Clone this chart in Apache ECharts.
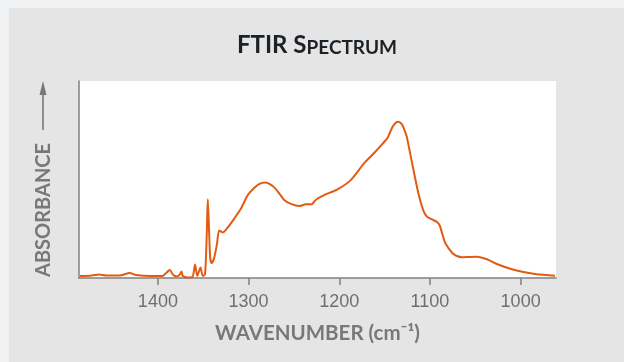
<!DOCTYPE html>
<html>
<head>
<meta charset="utf-8">
<script src="https://cdn.jsdelivr.net/npm/echarts@6/dist/echarts.min.js"></script>
<style>
html,body{margin:0;padding:0;background:#f1f2f4;}
#chart{width:624px;height:362px;}
</style>
</head>
<body>
<div id="chart"></div>
<script>
// Wavenumbers (cm-1)
const wavenumbers = [1486,1473,1465,1457,1442,1431,1424,1407,1395,1391,1387,1383,1379,1375.5,1374,1372.5,1367.6,1362,1359,1356.6,1353,1350.5,1348,1346,1345,1343.6,1342.3,1340.7,1338,1335,1332.4,1328.6,1322.9,1315.6,1308.2,1300.9,1293.6,1288.5,1282,1273.4,1266.2,1260.7,1253.3,1244.2,1236.8,1230.2,1228,1224.7,1216.7,1202,1187.4,1172.7,1161.8,1150.8,1147,1141.5,1138,1134.6,1131.3,1128.8,1125.8,1123.3,1117.8,1112.3,1106.8,1103.1,1098.4,1092.1,1089,1086.6,1083,1075.6,1071,1064.6,1056.6,1048.1,1037.1,1026.2,1011.5,996.9,982.2,962.1];
// Relative absorbance
const absorbance = [0.010,0.013,0.018,0.013,0.013,0.025,0.015,0.010,0.010,0.025,0.041,0.015,0.008,0.020,0.033,0.010,0.003,0.005,0.069,0.010,0.053,0.010,0.020,0.240,0.400,0.244,0.102,0.076,0.102,0.168,0.241,0.231,0.257,0.303,0.354,0.421,0.458,0.477,0.485,0.467,0.430,0.396,0.376,0.365,0.374,0.374,0.386,0.401,0.421,0.450,0.497,0.582,0.633,0.689,0.709,0.765,0.787,0.793,0.782,0.760,0.721,0.667,0.540,0.421,0.337,0.311,0.299,0.284,0.264,0.227,0.176,0.128,0.113,0.105,0.107,0.108,0.095,0.071,0.047,0.030,0.019,0.012];
const tickValues = [1400,1300,1200,1100,1000];
const titleBig = 'FTIR S';
const titleSmall = 'PECTRUM';
const xAxisTitle = 'WAVENUMBER (cm⁻¹)';
const yAxisTitle = 'ABSORBANCE';

const seriesData = wavenumbers.map((w,i)=>[w, absorbance[i]]);
const chart = echarts.init(document.getElementById('chart'), null, {renderer:'canvas'});
const grey = '#787878';
chart.setOption({
  backgroundColor:'#f1f2f4',
  animation:false,
  graphic:[
    {type:'rect', z:-10, shape:{x:9,y:8,width:620,height:360}, style:{fill:'#e5e5e5'}},
    {type:'text', x:317, y:45, style:{
      text:'{a|'+titleBig+'}{b|'+titleSmall+'}',
      textAlign:'center', textVerticalAlign:'middle',
      rich:{
        a:{fontFamily:'Lato', fontWeight:'bold', fontSize:24, fill:'#1b2126'},
        b:{fontFamily:'Lato', fontWeight:'bold', fontSize:19, fill:'#1b2126', verticalAlign:'bottom'}
      }
    }},
    {type:'text', x:43.5, y:277, rotation:Math.PI/2, style:{
      text:yAxisTitle, textAlign:'left', textVerticalAlign:'middle',
      fontFamily:'Lato', fontWeight:'bold', fontSize:20, fill:grey
    }},
    {type:'line', shape:{x1:43,y1:130,x2:43,y2:92}, style:{stroke:grey, lineWidth:1.6}},
    {type:'polygon', shape:{points:[[43,81],[39.5,95],[46.5,95]]}, style:{fill:grey}}
  ],
  grid:{left:79, right:68, top:81, bottom:84, show:true, backgroundColor:'#ffffff', borderWidth:0},
  xAxis:{
    type:'value', inverse:true, min:961, max:1487,
    name:xAxisTitle, nameLocation:'middle', nameGap:45,
    nameTextStyle:{fontFamily:'Lato', fontWeight:'bold', fontSize:20.5, color:grey},
    axisLine:{show:true, onZero:false, lineStyle:{color:'#808080', width:1.5}},
    axisTick:{show:true, length:7, inside:false, customValues:tickValues, lineStyle:{color:'#808080', width:1.5}},
    axisLabel:{show:true, customValues:tickValues, margin:15, fontFamily:'Liberation Sans', fontSize:18, color:'#6f6f6f',
      formatter:function(v){return String(v);}},
    splitLine:{show:false}
  },
  yAxis:{
    type:'value', min:0, max:1,
    axisLine:{show:true, lineStyle:{color:'#808080', width:1.5}},
    axisTick:{show:false}, axisLabel:{show:false}, splitLine:{show:false}
  },
  series:[{
    type:'line', data:seriesData, showSymbol:false, smooth:0.25,
    lineStyle:{color:'#e35b12', width:2}, clip:true
  }]
});
</script>
</body>
</html>
